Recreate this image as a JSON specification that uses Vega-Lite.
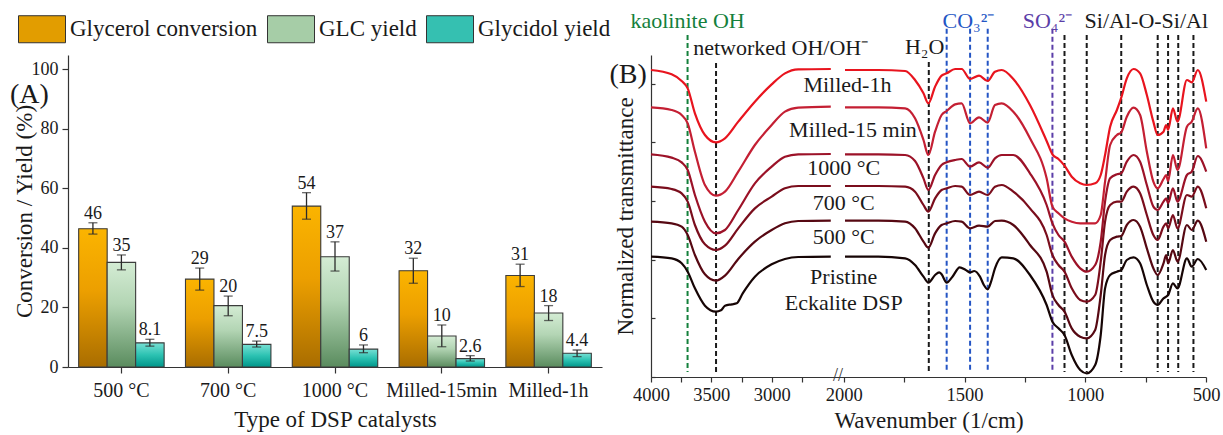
{
"$schema": "https://vega.github.io/schema/vega-lite/v6.json",
"padding": {"left": 9, "top": 5, "right": 2, "bottom": 2},
"spacing": 7,
"config": {
  "font": "Liberation Serif",
  "view": {"stroke": null},
  "axis": {"grid": false, "domainColor": "#333333", "tickColor": "#333333", "labelColor": "#1a1a1a", "titleColor": "#1a1a1a", "titleFontWeight": "normal", "labelFont": "Liberation Serif", "titleFont": "Liberation Serif", "domainWidth": 1.2, "tickWidth": 1.2},
  "legend": {"labelFont": "Liberation Serif"},
  "text": {"font": "Liberation Serif"}
},
"datasets": {
  "bars": [
    {"catalyst":"500 °C","series":"Glycerol conversion","value":46.4,"lo":44.6,"hi":48.4,"label":"46"},
    {"catalyst":"500 °C","series":"GLC yield","value":35.1,"lo":32.6,"hi":37.6,"label":"35"},
    {"catalyst":"500 °C","series":"Glycidol yield","value":8.1,"lo":7.0,"hi":9.3,"label":"8.1"},
    {"catalyst":"700 °C","series":"Glycerol conversion","value":29.5,"lo":25.8,"hi":33.2,"label":"29"},
    {"catalyst":"700 °C","series":"GLC yield","value":20.6,"lo":17.2,"hi":23.8,"label":"20"},
    {"catalyst":"700 °C","series":"Glycidol yield","value":7.6,"lo":6.7,"hi":8.7,"label":"7.5"},
    {"catalyst":"1000 °C","series":"Glycerol conversion","value":54.0,"lo":49.6,"hi":58.5,"label":"54"},
    {"catalyst":"1000 °C","series":"GLC yield","value":37.0,"lo":32.2,"hi":42.0,"label":"37"},
    {"catalyst":"1000 °C","series":"Glycidol yield","value":6.0,"lo":4.8,"hi":7.4,"label":"6"},
    {"catalyst":"Milled-15min","series":"Glycerol conversion","value":32.3,"lo":28.1,"hi":36.5,"label":"32"},
    {"catalyst":"Milled-15min","series":"GLC yield","value":10.4,"lo":6.8,"hi":14.1,"label":"10"},
    {"catalyst":"Milled-15min","series":"Glycidol yield","value":2.8,"lo":2.0,"hi":3.8,"label":"2.6"},
    {"catalyst":"Milled-1h","series":"Glycerol conversion","value":30.7,"lo":27.0,"hi":34.5,"label":"31"},
    {"catalyst":"Milled-1h","series":"GLC yield","value":18.1,"lo":15.6,"hi":20.6,"label":"18"},
    {"catalyst":"Milled-1h","series":"Glycidol yield","value":4.6,"lo":3.5,"hi":5.7,"label":"4.4"}
  ],
  "bands": [
    {"wn":3697,"kind":"kaolinite","top":1026,"bottom":15},
    {"wn":3461,"kind":"other","top":942,"bottom":15},
    {"wn":1648,"kind":"other","top":945,"bottom":15},
    {"wn":1574,"kind":"carbonate","top":1045,"bottom":15},
    {"wn":1477,"kind":"carbonate","top":1045,"bottom":15},
    {"wn":1404,"kind":"carbonate","top":1045,"bottom":15},
    {"wn":1136,"kind":"sulfate","top":1045,"bottom":15},
    {"wn":1086,"kind":"other","top":1026,"bottom":15},
    {"wn":994,"kind":"other","top":1026,"bottom":15},
    {"wn":851,"kind":"other","top":1026,"bottom":15},
    {"wn":700,"kind":"other","top":1026,"bottom":15},
    {"wn":657,"kind":"other","top":1026,"bottom":15},
    {"wn":615,"kind":"other","top":1026,"bottom":15},
    {"wn":552,"kind":"other","top":1026,"bottom":15}
  ],
  "notes": [
    {"wn":3697,"T":1068,"text":"kaolinite OH","kind":"kaolinite"},
    {"wn":2925,"T":987,"text":"networked OH/OH⁻","kind":"other"},
    {"wn":1665,"T":990,"text":"H₂O","kind":"other"},
    {"wn":1484,"T":1068,"text":"CO₃²⁻","kind":"carbonate"},
    {"wn":1157,"T":1068,"text":"SO₄²⁻","kind":"sulfate"},
    {"wn":747,"T":1068,"text":"Si/Al-O-Si/Al","kind":"other"}
  ],
  "curvelabels": [
    {"wn":1985,"T":876,"text":"Milled-1h"},
    {"wn":1962,"T":741,"text":"Milled-15 min"},
    {"wn":2003,"T":627,"text":"1000 °C"},
    {"wn":2002,"T":522,"text":"700 °C"},
    {"wn":2002,"T":420,"text":"500 °C"},
    {"wn":2004,"T":300,"text":"Pristine"},
    {"wn":2002,"T":222,"text":"Eckalite  DSP"}
  ],
  "spectra": [
    {"sample":"Milled-1h","seg":"a","wn":4000,"T":921},{"sample":"Milled-1h","seg":"a","wn":3829,"T":908},{"sample":"Milled-1h","seg":"a","wn":3746,"T":888},{"sample":"Milled-1h","seg":"a","wn":3696,"T":866},{"sample":"Milled-1h","seg":"a","wn":3636,"T":791},{"sample":"Milled-1h","seg":"a","wn":3553,"T":726},{"sample":"Milled-1h","seg":"a","wn":3462,"T":704},{"sample":"Milled-1h","seg":"a","wn":3387,"T":716},{"sample":"Milled-1h","seg":"a","wn":3277,"T":766},{"sample":"Milled-1h","seg":"a","wn":3139,"T":826},{"sample":"Milled-1h","seg":"a","wn":3000,"T":878},{"sample":"Milled-1h","seg":"a","wn":2890,"T":911},{"sample":"Milled-1h","seg":"a","wn":2780,"T":923},{"sample":"Milled-1h","seg":"a","wn":2510,"T":924},
    {"sample":"Milled-1h","seg":"b","wn":1995,"T":921},{"sample":"Milled-1h","seg":"b","wn":1857,"T":921},{"sample":"Milled-1h","seg":"b","wn":1746,"T":918},{"sample":"Milled-1h","seg":"b","wn":1705,"T":891},{"sample":"Milled-1h","seg":"b","wn":1670,"T":851},{"sample":"Milled-1h","seg":"b","wn":1650,"T":821},{"sample":"Milled-1h","seg":"b","wn":1622,"T":871},{"sample":"Milled-1h","seg":"b","wn":1595,"T":904},{"sample":"Milled-1h","seg":"b","wn":1574,"T":911},{"sample":"Milled-1h","seg":"b","wn":1539,"T":924},{"sample":"Milled-1h","seg":"b","wn":1512,"T":924},{"sample":"Milled-1h","seg":"b","wn":1477,"T":894},{"sample":"Milled-1h","seg":"b","wn":1440,"T":904},{"sample":"Milled-1h","seg":"b","wn":1404,"T":888},{"sample":"Milled-1h","seg":"b","wn":1374,"T":916},{"sample":"Milled-1h","seg":"b","wn":1346,"T":921},{"sample":"Milled-1h","seg":"b","wn":1298,"T":894},{"sample":"Milled-1h","seg":"b","wn":1229,"T":816},{"sample":"Milled-1h","seg":"b","wn":1160,"T":708},{"sample":"Milled-1h","seg":"b","wn":1136,"T":668},{"sample":"Milled-1h","seg":"b","wn":1111,"T":654},{"sample":"Milled-1h","seg":"b","wn":1086,"T":634},{"sample":"Milled-1h","seg":"b","wn":1056,"T":601},{"sample":"Milled-1h","seg":"b","wn":1021,"T":581},{"sample":"Milled-1h","seg":"b","wn":994,"T":576},{"sample":"Milled-1h","seg":"b","wn":959,"T":581},{"sample":"Milled-1h","seg":"b","wn":936,"T":606},{"sample":"Milled-1h","seg":"b","wn":918,"T":666},{"sample":"Milled-1h","seg":"b","wn":897,"T":751},{"sample":"Milled-1h","seg":"b","wn":869,"T":801},{"sample":"Milled-1h","seg":"b","wn":851,"T":838},{"sample":"Milled-1h","seg":"b","wn":828,"T":896},{"sample":"Milled-1h","seg":"b","wn":800,"T":924},{"sample":"Milled-1h","seg":"b","wn":773,"T":911},{"sample":"Milled-1h","seg":"b","wn":745,"T":846},{"sample":"Milled-1h","seg":"b","wn":718,"T":766},{"sample":"Milled-1h","seg":"b","wn":700,"T":726},{"sample":"Milled-1h","seg":"b","wn":676,"T":736},{"sample":"Milled-1h","seg":"b","wn":665,"T":756},{"sample":"Milled-1h","seg":"b","wn":657,"T":741},{"sample":"Milled-1h","seg":"b","wn":637,"T":806},{"sample":"Milled-1h","seg":"b","wn":618,"T":766},{"sample":"Milled-1h","seg":"b","wn":579,"T":891},{"sample":"Milled-1h","seg":"b","wn":559,"T":884},{"sample":"Milled-1h","seg":"b","wn":534,"T":921},{"sample":"Milled-1h","seg":"b","wn":499,"T":826},
    {"sample":"Milled-15 min","seg":"a","wn":4000,"T":809},{"sample":"Milled-15 min","seg":"a","wn":3829,"T":801},{"sample":"Milled-15 min","seg":"a","wn":3746,"T":786},{"sample":"Milled-15 min","seg":"a","wn":3696,"T":761},{"sample":"Milled-15 min","seg":"a","wn":3636,"T":676},{"sample":"Milled-15 min","seg":"a","wn":3553,"T":576},{"sample":"Milled-15 min","seg":"a","wn":3462,"T":544},{"sample":"Milled-15 min","seg":"a","wn":3387,"T":556},{"sample":"Milled-15 min","seg":"a","wn":3277,"T":616},{"sample":"Milled-15 min","seg":"a","wn":3139,"T":696},{"sample":"Milled-15 min","seg":"a","wn":3000,"T":756},{"sample":"Milled-15 min","seg":"a","wn":2890,"T":796},{"sample":"Milled-15 min","seg":"a","wn":2780,"T":808},{"sample":"Milled-15 min","seg":"a","wn":2510,"T":811},
    {"sample":"Milled-15 min","seg":"b","wn":1995,"T":809},{"sample":"Milled-15 min","seg":"b","wn":1857,"T":809},{"sample":"Milled-15 min","seg":"b","wn":1746,"T":806},{"sample":"Milled-15 min","seg":"b","wn":1705,"T":776},{"sample":"Milled-15 min","seg":"b","wn":1670,"T":711},{"sample":"Milled-15 min","seg":"b","wn":1650,"T":666},{"sample":"Milled-15 min","seg":"b","wn":1622,"T":736},{"sample":"Milled-15 min","seg":"b","wn":1595,"T":786},{"sample":"Milled-15 min","seg":"b","wn":1574,"T":798},{"sample":"Milled-15 min","seg":"b","wn":1539,"T":818},{"sample":"Milled-15 min","seg":"b","wn":1512,"T":821},{"sample":"Milled-15 min","seg":"b","wn":1477,"T":761},{"sample":"Milled-15 min","seg":"b","wn":1440,"T":779},{"sample":"Milled-15 min","seg":"b","wn":1404,"T":763},{"sample":"Milled-15 min","seg":"b","wn":1374,"T":816},{"sample":"Milled-15 min","seg":"b","wn":1346,"T":821},{"sample":"Milled-15 min","seg":"b","wn":1298,"T":796},{"sample":"Milled-15 min","seg":"b","wn":1229,"T":716},{"sample":"Milled-15 min","seg":"b","wn":1160,"T":596},{"sample":"Milled-15 min","seg":"b","wn":1136,"T":511},{"sample":"Milled-15 min","seg":"b","wn":1111,"T":491},{"sample":"Milled-15 min","seg":"b","wn":1086,"T":476},{"sample":"Milled-15 min","seg":"b","wn":1056,"T":466},{"sample":"Milled-15 min","seg":"b","wn":1021,"T":461},{"sample":"Milled-15 min","seg":"b","wn":994,"T":461},{"sample":"Milled-15 min","seg":"b","wn":959,"T":461},{"sample":"Milled-15 min","seg":"b","wn":936,"T":486},{"sample":"Milled-15 min","seg":"b","wn":918,"T":586},{"sample":"Milled-15 min","seg":"b","wn":897,"T":696},{"sample":"Milled-15 min","seg":"b","wn":869,"T":726},{"sample":"Milled-15 min","seg":"b","wn":851,"T":734},{"sample":"Milled-15 min","seg":"b","wn":828,"T":781},{"sample":"Milled-15 min","seg":"b","wn":800,"T":808},{"sample":"Milled-15 min","seg":"b","wn":773,"T":786},{"sample":"Milled-15 min","seg":"b","wn":745,"T":676},{"sample":"Milled-15 min","seg":"b","wn":718,"T":586},{"sample":"Milled-15 min","seg":"b","wn":700,"T":566},{"sample":"Milled-15 min","seg":"b","wn":676,"T":594},{"sample":"Milled-15 min","seg":"b","wn":665,"T":606},{"sample":"Milled-15 min","seg":"b","wn":657,"T":588},{"sample":"Milled-15 min","seg":"b","wn":637,"T":666},{"sample":"Milled-15 min","seg":"b","wn":618,"T":621},{"sample":"Milled-15 min","seg":"b","wn":579,"T":751},{"sample":"Milled-15 min","seg":"b","wn":559,"T":766},{"sample":"Milled-15 min","seg":"b","wn":534,"T":806},{"sample":"Milled-15 min","seg":"b","wn":499,"T":686},
    {"sample":"1000 °C","seg":"a","wn":4000,"T":668},{"sample":"1000 °C","seg":"a","wn":3829,"T":658},{"sample":"1000 °C","seg":"a","wn":3746,"T":644},{"sample":"1000 °C","seg":"a","wn":3696,"T":621},{"sample":"1000 °C","seg":"a","wn":3636,"T":546},{"sample":"1000 °C","seg":"a","wn":3553,"T":466},{"sample":"1000 °C","seg":"a","wn":3462,"T":431},{"sample":"1000 °C","seg":"a","wn":3387,"T":441},{"sample":"1000 °C","seg":"a","wn":3277,"T":501},{"sample":"1000 °C","seg":"a","wn":3139,"T":581},{"sample":"1000 °C","seg":"a","wn":3000,"T":631},{"sample":"1000 °C","seg":"a","wn":2890,"T":661},{"sample":"1000 °C","seg":"a","wn":2780,"T":668},{"sample":"1000 °C","seg":"a","wn":2510,"T":669},
    {"sample":"1000 °C","seg":"b","wn":1995,"T":668},{"sample":"1000 °C","seg":"b","wn":1857,"T":668},{"sample":"1000 °C","seg":"b","wn":1746,"T":666},{"sample":"1000 °C","seg":"b","wn":1705,"T":648},{"sample":"1000 °C","seg":"b","wn":1670,"T":596},{"sample":"1000 °C","seg":"b","wn":1650,"T":561},{"sample":"1000 °C","seg":"b","wn":1622,"T":606},{"sample":"1000 °C","seg":"b","wn":1595,"T":636},{"sample":"1000 °C","seg":"b","wn":1574,"T":644},{"sample":"1000 °C","seg":"b","wn":1539,"T":651},{"sample":"1000 °C","seg":"b","wn":1512,"T":654},{"sample":"1000 °C","seg":"b","wn":1477,"T":631},{"sample":"1000 °C","seg":"b","wn":1440,"T":644},{"sample":"1000 °C","seg":"b","wn":1404,"T":628},{"sample":"1000 °C","seg":"b","wn":1374,"T":656},{"sample":"1000 °C","seg":"b","wn":1346,"T":666},{"sample":"1000 °C","seg":"b","wn":1298,"T":666},{"sample":"1000 °C","seg":"b","wn":1229,"T":611},{"sample":"1000 °C","seg":"b","wn":1160,"T":516},{"sample":"1000 °C","seg":"b","wn":1136,"T":461},{"sample":"1000 °C","seg":"b","wn":1111,"T":426},{"sample":"1000 °C","seg":"b","wn":1086,"T":406},{"sample":"1000 °C","seg":"b","wn":1056,"T":361},{"sample":"1000 °C","seg":"b","wn":1021,"T":326},{"sample":"1000 °C","seg":"b","wn":994,"T":316},{"sample":"1000 °C","seg":"b","wn":959,"T":336},{"sample":"1000 °C","seg":"b","wn":936,"T":406},{"sample":"1000 °C","seg":"b","wn":918,"T":526},{"sample":"1000 °C","seg":"b","wn":897,"T":596},{"sample":"1000 °C","seg":"b","wn":869,"T":608},{"sample":"1000 °C","seg":"b","wn":851,"T":611},{"sample":"1000 °C","seg":"b","wn":828,"T":646},{"sample":"1000 °C","seg":"b","wn":800,"T":666},{"sample":"1000 °C","seg":"b","wn":773,"T":646},{"sample":"1000 °C","seg":"b","wn":745,"T":576},{"sample":"1000 °C","seg":"b","wn":718,"T":511},{"sample":"1000 °C","seg":"b","wn":700,"T":501},{"sample":"1000 °C","seg":"b","wn":676,"T":526},{"sample":"1000 °C","seg":"b","wn":665,"T":536},{"sample":"1000 °C","seg":"b","wn":657,"T":521},{"sample":"1000 °C","seg":"b","wn":637,"T":566},{"sample":"1000 °C","seg":"b","wn":618,"T":526},{"sample":"1000 °C","seg":"b","wn":579,"T":606},{"sample":"1000 °C","seg":"b","wn":559,"T":616},{"sample":"1000 °C","seg":"b","wn":534,"T":663},{"sample":"1000 °C","seg":"b","wn":499,"T":616},
    {"sample":"700 °C","seg":"a","wn":4000,"T":571},{"sample":"700 °C","seg":"a","wn":3829,"T":564},{"sample":"700 °C","seg":"a","wn":3746,"T":551},{"sample":"700 °C","seg":"a","wn":3696,"T":526},{"sample":"700 °C","seg":"a","wn":3636,"T":456},{"sample":"700 °C","seg":"a","wn":3553,"T":398},{"sample":"700 °C","seg":"a","wn":3462,"T":381},{"sample":"700 °C","seg":"a","wn":3387,"T":394},{"sample":"700 °C","seg":"a","wn":3277,"T":446},{"sample":"700 °C","seg":"a","wn":3139,"T":506},{"sample":"700 °C","seg":"a","wn":3000,"T":541},{"sample":"700 °C","seg":"a","wn":2890,"T":566},{"sample":"700 °C","seg":"a","wn":2780,"T":573},{"sample":"700 °C","seg":"a","wn":2510,"T":573},
    {"sample":"700 °C","seg":"b","wn":1995,"T":573},{"sample":"700 °C","seg":"b","wn":1857,"T":573},{"sample":"700 °C","seg":"b","wn":1746,"T":571},{"sample":"700 °C","seg":"b","wn":1705,"T":556},{"sample":"700 °C","seg":"b","wn":1670,"T":516},{"sample":"700 °C","seg":"b","wn":1650,"T":496},{"sample":"700 °C","seg":"b","wn":1622,"T":536},{"sample":"700 °C","seg":"b","wn":1595,"T":561},{"sample":"700 °C","seg":"b","wn":1574,"T":566},{"sample":"700 °C","seg":"b","wn":1539,"T":573},{"sample":"700 °C","seg":"b","wn":1512,"T":571},{"sample":"700 °C","seg":"b","wn":1477,"T":546},{"sample":"700 °C","seg":"b","wn":1440,"T":556},{"sample":"700 °C","seg":"b","wn":1404,"T":546},{"sample":"700 °C","seg":"b","wn":1374,"T":571},{"sample":"700 °C","seg":"b","wn":1346,"T":576},{"sample":"700 °C","seg":"b","wn":1298,"T":556},{"sample":"700 °C","seg":"b","wn":1229,"T":506},{"sample":"700 °C","seg":"b","wn":1160,"T":426},{"sample":"700 °C","seg":"b","wn":1136,"T":366},{"sample":"700 °C","seg":"b","wn":1111,"T":336},{"sample":"700 °C","seg":"b","wn":1086,"T":316},{"sample":"700 °C","seg":"b","wn":1056,"T":266},{"sample":"700 °C","seg":"b","wn":1021,"T":231},{"sample":"700 °C","seg":"b","wn":994,"T":226},{"sample":"700 °C","seg":"b","wn":959,"T":246},{"sample":"700 °C","seg":"b","wn":936,"T":346},{"sample":"700 °C","seg":"b","wn":918,"T":466},{"sample":"700 °C","seg":"b","wn":897,"T":516},{"sample":"700 °C","seg":"b","wn":869,"T":526},{"sample":"700 °C","seg":"b","wn":851,"T":526},{"sample":"700 °C","seg":"b","wn":828,"T":556},{"sample":"700 °C","seg":"b","wn":800,"T":571},{"sample":"700 °C","seg":"b","wn":773,"T":551},{"sample":"700 °C","seg":"b","wn":745,"T":486},{"sample":"700 °C","seg":"b","wn":718,"T":426},{"sample":"700 °C","seg":"b","wn":700,"T":411},{"sample":"700 °C","seg":"b","wn":676,"T":451},{"sample":"700 °C","seg":"b","wn":665,"T":461},{"sample":"700 °C","seg":"b","wn":657,"T":446},{"sample":"700 °C","seg":"b","wn":637,"T":486},{"sample":"700 °C","seg":"b","wn":618,"T":446},{"sample":"700 °C","seg":"b","wn":579,"T":546},{"sample":"700 °C","seg":"b","wn":559,"T":541},{"sample":"700 °C","seg":"b","wn":534,"T":571},{"sample":"700 °C","seg":"b","wn":499,"T":506},
    {"sample":"500 °C","seg":"a","wn":4000,"T":466},{"sample":"500 °C","seg":"a","wn":3829,"T":461},{"sample":"500 °C","seg":"a","wn":3746,"T":451},{"sample":"500 °C","seg":"a","wn":3696,"T":426},{"sample":"500 °C","seg":"a","wn":3636,"T":366},{"sample":"500 °C","seg":"a","wn":3553,"T":308},{"sample":"500 °C","seg":"a","wn":3462,"T":289},{"sample":"500 °C","seg":"a","wn":3387,"T":304},{"sample":"500 °C","seg":"a","wn":3277,"T":354},{"sample":"500 °C","seg":"a","wn":3139,"T":406},{"sample":"500 °C","seg":"a","wn":3000,"T":441},{"sample":"500 °C","seg":"a","wn":2890,"T":461},{"sample":"500 °C","seg":"a","wn":2780,"T":468},{"sample":"500 °C","seg":"a","wn":2510,"T":469},
    {"sample":"500 °C","seg":"b","wn":1995,"T":469},{"sample":"500 °C","seg":"b","wn":1857,"T":469},{"sample":"500 °C","seg":"b","wn":1746,"T":466},{"sample":"500 °C","seg":"b","wn":1705,"T":446},{"sample":"500 °C","seg":"b","wn":1670,"T":406},{"sample":"500 °C","seg":"b","wn":1650,"T":388},{"sample":"500 °C","seg":"b","wn":1622,"T":431},{"sample":"500 °C","seg":"b","wn":1595,"T":456},{"sample":"500 °C","seg":"b","wn":1574,"T":461},{"sample":"500 °C","seg":"b","wn":1539,"T":468},{"sample":"500 °C","seg":"b","wn":1512,"T":466},{"sample":"500 °C","seg":"b","wn":1477,"T":446},{"sample":"500 °C","seg":"b","wn":1440,"T":454},{"sample":"500 °C","seg":"b","wn":1404,"T":451},{"sample":"500 °C","seg":"b","wn":1374,"T":468},{"sample":"500 °C","seg":"b","wn":1346,"T":469},{"sample":"500 °C","seg":"b","wn":1298,"T":456},{"sample":"500 °C","seg":"b","wn":1229,"T":396},{"sample":"500 °C","seg":"b","wn":1160,"T":316},{"sample":"500 °C","seg":"b","wn":1136,"T":246},{"sample":"500 °C","seg":"b","wn":1111,"T":216},{"sample":"500 °C","seg":"b","wn":1086,"T":196},{"sample":"500 °C","seg":"b","wn":1056,"T":146},{"sample":"500 °C","seg":"b","wn":1021,"T":121},{"sample":"500 °C","seg":"b","wn":994,"T":116},{"sample":"500 °C","seg":"b","wn":959,"T":141},{"sample":"500 °C","seg":"b","wn":936,"T":246},{"sample":"500 °C","seg":"b","wn":918,"T":366},{"sample":"500 °C","seg":"b","wn":897,"T":411},{"sample":"500 °C","seg":"b","wn":869,"T":421},{"sample":"500 °C","seg":"b","wn":851,"T":423},{"sample":"500 °C","seg":"b","wn":828,"T":456},{"sample":"500 °C","seg":"b","wn":800,"T":471},{"sample":"500 °C","seg":"b","wn":773,"T":451},{"sample":"500 °C","seg":"b","wn":745,"T":386},{"sample":"500 °C","seg":"b","wn":718,"T":326},{"sample":"500 °C","seg":"b","wn":700,"T":306},{"sample":"500 °C","seg":"b","wn":676,"T":341},{"sample":"500 °C","seg":"b","wn":665,"T":366},{"sample":"500 °C","seg":"b","wn":657,"T":341},{"sample":"500 °C","seg":"b","wn":637,"T":381},{"sample":"500 °C","seg":"b","wn":618,"T":346},{"sample":"500 °C","seg":"b","wn":579,"T":456},{"sample":"500 °C","seg":"b","wn":559,"T":441},{"sample":"500 °C","seg":"b","wn":534,"T":469},{"sample":"500 °C","seg":"b","wn":499,"T":406},
    {"sample":"Pristine Eckalite DSP","seg":"a","wn":4000,"T":361},{"sample":"Pristine Eckalite DSP","seg":"a","wn":3829,"T":356},{"sample":"Pristine Eckalite DSP","seg":"a","wn":3746,"T":341},{"sample":"Pristine Eckalite DSP","seg":"a","wn":3696,"T":316},{"sample":"Pristine Eckalite DSP","seg":"a","wn":3636,"T":266},{"sample":"Pristine Eckalite DSP","seg":"a","wn":3553,"T":214},{"sample":"Pristine Eckalite DSP","seg":"a","wn":3462,"T":196},{"sample":"Pristine Eckalite DSP","seg":"a","wn":3420,"T":200},{"sample":"Pristine Eckalite DSP","seg":"a","wn":3387,"T":214},{"sample":"Pristine Eckalite DSP","seg":"a","wn":3330,"T":218},{"sample":"Pristine Eckalite DSP","seg":"a","wn":3290,"T":221},{"sample":"Pristine Eckalite DSP","seg":"a","wn":3240,"T":251},{"sample":"Pristine Eckalite DSP","seg":"a","wn":3139,"T":301},{"sample":"Pristine Eckalite DSP","seg":"a","wn":3000,"T":338},{"sample":"Pristine Eckalite DSP","seg":"a","wn":2890,"T":354},{"sample":"Pristine Eckalite DSP","seg":"a","wn":2780,"T":360},{"sample":"Pristine Eckalite DSP","seg":"a","wn":2510,"T":361},
    {"sample":"Pristine Eckalite DSP","seg":"b","wn":1995,"T":361},{"sample":"Pristine Eckalite DSP","seg":"b","wn":1857,"T":361},{"sample":"Pristine Eckalite DSP","seg":"b","wn":1746,"T":356},{"sample":"Pristine Eckalite DSP","seg":"b","wn":1705,"T":336},{"sample":"Pristine Eckalite DSP","seg":"b","wn":1670,"T":301},{"sample":"Pristine Eckalite DSP","seg":"b","wn":1650,"T":283},{"sample":"Pristine Eckalite DSP","seg":"b","wn":1622,"T":306},{"sample":"Pristine Eckalite DSP","seg":"b","wn":1605,"T":314},{"sample":"Pristine Eckalite DSP","seg":"b","wn":1595,"T":308},{"sample":"Pristine Eckalite DSP","seg":"b","wn":1574,"T":283},{"sample":"Pristine Eckalite DSP","seg":"b","wn":1550,"T":301},{"sample":"Pristine Eckalite DSP","seg":"b","wn":1520,"T":329},{"sample":"Pristine Eckalite DSP","seg":"b","wn":1495,"T":321},{"sample":"Pristine Eckalite DSP","seg":"b","wn":1477,"T":314},{"sample":"Pristine Eckalite DSP","seg":"b","wn":1460,"T":318},{"sample":"Pristine Eckalite DSP","seg":"b","wn":1436,"T":301},{"sample":"Pristine Eckalite DSP","seg":"b","wn":1420,"T":276},{"sample":"Pristine Eckalite DSP","seg":"b","wn":1404,"T":263},{"sample":"Pristine Eckalite DSP","seg":"b","wn":1390,"T":286},{"sample":"Pristine Eckalite DSP","seg":"b","wn":1374,"T":326},{"sample":"Pristine Eckalite DSP","seg":"b","wn":1346,"T":359},{"sample":"Pristine Eckalite DSP","seg":"b","wn":1298,"T":356},{"sample":"Pristine Eckalite DSP","seg":"b","wn":1229,"T":306},{"sample":"Pristine Eckalite DSP","seg":"b","wn":1160,"T":216},{"sample":"Pristine Eckalite DSP","seg":"b","wn":1136,"T":166},{"sample":"Pristine Eckalite DSP","seg":"b","wn":1111,"T":146},{"sample":"Pristine Eckalite DSP","seg":"b","wn":1086,"T":126},{"sample":"Pristine Eckalite DSP","seg":"b","wn":1056,"T":66},{"sample":"Pristine Eckalite DSP","seg":"b","wn":1021,"T":21},{"sample":"Pristine Eckalite DSP","seg":"b","wn":994,"T":11},{"sample":"Pristine Eckalite DSP","seg":"b","wn":959,"T":36},{"sample":"Pristine Eckalite DSP","seg":"b","wn":936,"T":126},{"sample":"Pristine Eckalite DSP","seg":"b","wn":918,"T":266},{"sample":"Pristine Eckalite DSP","seg":"b","wn":897,"T":306},{"sample":"Pristine Eckalite DSP","seg":"b","wn":869,"T":316},{"sample":"Pristine Eckalite DSP","seg":"b","wn":851,"T":321},{"sample":"Pristine Eckalite DSP","seg":"b","wn":828,"T":351},{"sample":"Pristine Eckalite DSP","seg":"b","wn":800,"T":359},{"sample":"Pristine Eckalite DSP","seg":"b","wn":773,"T":341},{"sample":"Pristine Eckalite DSP","seg":"b","wn":745,"T":276},{"sample":"Pristine Eckalite DSP","seg":"b","wn":718,"T":226},{"sample":"Pristine Eckalite DSP","seg":"b","wn":700,"T":216},{"sample":"Pristine Eckalite DSP","seg":"b","wn":676,"T":236},{"sample":"Pristine Eckalite DSP","seg":"b","wn":665,"T":241},{"sample":"Pristine Eckalite DSP","seg":"b","wn":657,"T":246},{"sample":"Pristine Eckalite DSP","seg":"b","wn":637,"T":281},{"sample":"Pristine Eckalite DSP","seg":"b","wn":618,"T":266},{"sample":"Pristine Eckalite DSP","seg":"b","wn":579,"T":356},{"sample":"Pristine Eckalite DSP","seg":"b","wn":559,"T":331},{"sample":"Pristine Eckalite DSP","seg":"b","wn":534,"T":354},{"sample":"Pristine Eckalite DSP","seg":"b","wn":499,"T":321}
  ]
},
"hconcat": [
  {
    "width": 534,
    "height": 312,
    "data": {"name": "bars"},
    "layer": [
      {
        "mark": {"type": "bar"},
        "encoding": {
          "x": {"field": "catalyst", "type": "nominal", "sort": ["500 °C","700 °C","1000 °C","Milled-15min","Milled-1h"], "scale": {"paddingInner": 0.2, "paddingOuter": 0.1},
                "axis": {"title": "Type of DSP catalysts", "labelAngle": 0, "labelFontSize": 20, "titleFontSize": 23, "tickSize": 6, "labelPadding": 7, "titlePadding": 8}},
          "xOffset": {"field": "series", "type": "nominal", "sort": ["Glycerol conversion","GLC yield","Glycidol yield"]},
          "y": {"field": "value", "type": "quantitative", "scale": {"domain": [0, 104.7], "nice": false},
                "axis": {"title": "Conversion / Yield (%)", "values": [0,10,20,30,40,50,60,70,80,90,100], "labelExpr": "datum.value % 20 == 0 ? datum.label : ''", "labelFontSize": 18, "titleFontSize": 23, "tickSize": 6, "labelPadding": 4, "titlePadding": -5}},
          "fill": {"field": "series", "type": "nominal",
                   "scale": {"domain": ["Glycerol conversion","GLC yield","Glycidol yield"], "range": ["#e29d00","#a6cda7","#35c0b1"]},
                   "legend": {"orient": "none", "legendX": -50, "legendY": -50, "direction": "horizontal", "columns": 3, "title": null,
                              "symbolType": "M-1,-0.575H1V0.575H-1Z", "symbolSize": 2209, "symbolStrokeColor": "#333333", "symbolStrokeWidth": 1,
                              "labelFont": "Liberation Serif", "labelFontSize": 23, "labelOffset": 4, "columnPadding": 7, "labelLimit": 400, "labelColor": "#1a1a1a"}}
        }
      },
      {
        "mark": {"type": "bar", "stroke": "#3c3c3c", "strokeWidth": 1.1},
        "encoding": {
          "x": {"field": "catalyst", "type": "nominal", "sort": ["500 °C","700 °C","1000 °C","Milled-15min","Milled-1h"]},
          "xOffset": {"field": "series", "type": "nominal", "sort": ["Glycerol conversion","GLC yield","Glycidol yield"]},
          "y": {"field": "value", "type": "quantitative"},
          "fill": {
            "condition": [
              {"test": "datum.series === 'GLC yield'", "value": {"gradient": "linear", "x1": 0, "y1": 0, "x2": 0, "y2": 1, "stops": [{"offset": 0, "color": "#d4ecd4"}, {"offset": 0.4, "color": "#b3d5b4"}, {"offset": 1, "color": "#5a8c5e"}]}},
              {"test": "datum.series === 'Glycidol yield'", "value": {"gradient": "linear", "x1": 0, "y1": 0, "x2": 0, "y2": 1, "stops": [{"offset": 0, "color": "#78e0d4"}, {"offset": 0.5, "color": "#2cc2b2"}, {"offset": 1, "color": "#00968a"}]}}
            ],
            "value": {"gradient": "linear", "x1": 0, "y1": 0, "x2": 0, "y2": 1, "stops": [{"offset": 0, "color": "#fbb400"}, {"offset": 0.45, "color": "#ec9f00"}, {"offset": 1, "color": "#a96d00"}]}
          }
        }
      },
      {
        "mark": {"type": "rule", "color": "#2b2b2b", "strokeWidth": 1.3},
        "encoding": {
          "x": {"field": "catalyst", "type": "nominal", "sort": ["500 °C","700 °C","1000 °C","Milled-15min","Milled-1h"]},
          "xOffset": {"field": "series", "type": "nominal", "sort": ["Glycerol conversion","GLC yield","Glycidol yield"]},
          "y": {"field": "lo", "type": "quantitative"},
          "y2": {"field": "hi"}
        }
      },
      {
        "mark": {"type": "tick", "color": "#2b2b2b", "thickness": 1.3, "size": 9},
        "encoding": {
          "x": {"field": "catalyst", "type": "nominal", "sort": ["500 °C","700 °C","1000 °C","Milled-15min","Milled-1h"]},
          "xOffset": {"field": "series", "type": "nominal", "sort": ["Glycerol conversion","GLC yield","Glycidol yield"]},
          "y": {"field": "lo", "type": "quantitative"}
        }
      },
      {
        "mark": {"type": "tick", "color": "#2b2b2b", "thickness": 1.3, "size": 9},
        "encoding": {
          "x": {"field": "catalyst", "type": "nominal", "sort": ["500 °C","700 °C","1000 °C","Milled-15min","Milled-1h"]},
          "xOffset": {"field": "series", "type": "nominal", "sort": ["Glycerol conversion","GLC yield","Glycidol yield"]},
          "y": {"field": "hi", "type": "quantitative"}
        }
      },
      {
        "mark": {"type": "text", "font": "Liberation Serif", "baseline": "alphabetic", "dy": -4, "fontSize": 18, "color": "#1a1a1a"},
        "encoding": {
          "x": {"field": "catalyst", "type": "nominal", "sort": ["500 °C","700 °C","1000 °C","Milled-15min","Milled-1h"]},
          "xOffset": {"field": "series", "type": "nominal", "sort": ["Glycerol conversion","GLC yield","Glycidol yield"]},
          "y": {"field": "hi", "type": "quantitative"},
          "text": {"field": "label"}
        }
      },
      {
        "data": {"values": [{"panel": "(A)", "catalyst": "500 °C", "level": 91.3}]},
        "mark": {"type": "text", "font": "Liberation Serif", "fontSize": 28, "dx": -92, "align": "center", "baseline": "middle", "color": "#1a1a1a"},
        "encoding": {
          "x": {"field": "catalyst", "type": "nominal", "sort": ["500 °C","700 °C","1000 °C","Milled-15min","Milled-1h"]},
          "y": {"field": "level", "type": "quantitative"},
          "text": {"field": "panel"}
        }
      }
    ]
  },
  {
    "width": 555,
    "height": 322,
    "layer": [
      {
        "data": {"name": "bands"},
        "mark": {"type": "rule", "strokeWidth": 2, "strokeDash": [5, 3]},
        "encoding": {
          "x": {"field": "wn", "type": "quantitative", "scale": {"domain": [4000, 2500, 2000, 500], "range": [0, 181, 192.8, 555], "zero": false, "nice": false}},
          "y": {"field": "top", "type": "quantitative", "scale": {"domain": [0, 966], "nice": false, "zero": false}},
          "y2": {"field": "bottom"},
          "color": {"field": "kind", "type": "nominal", "scale": {"domain": ["kaolinite","other","carbonate","sulfate"], "range": ["#14803c","#1a1a1a","#2455c4","#5b3ea8"]}, "legend": null}
        }
      },
      {
        "data": {"name": "spectra"},
        "mark": {"type": "line", "strokeWidth": 2.2, "interpolate": "monotone"},
        "encoding": {
          "x": {"field": "wn", "type": "quantitative",
                "axis": {"title": "Wavenumber (1/cm)", "values": [4000,3750,3500,3250,3000,2750,2000,1750,1500,1250,1000,750,500], "labelExpr": "datum.value % 500 == 0 ? datum.label : ''", "format": "d", "labelFlush": false, "labelOverlap": false, "labelFontSize": 18.5, "titleFontSize": 23, "tickSize": 5, "labelPadding": 3, "titlePadding": 6}},
          "y": {"field": "T", "type": "quantitative",
                "axis": {"title": "Normalized transmittance", "labels": false, "values": [0,88,176,264,352,440,528,616,704,792,880], "tickSize": -4, "titleFontSize": 23, "titlePadding": 13}},
          "stroke": {"field": "sample", "type": "nominal", "scale": {"domain": ["Milled-1h","Milled-15 min","1000 °C","700 °C","500 °C","Pristine Eckalite DSP"], "range": ["#e8141e","#c41f33","#9c1228","#7a0d1c","#560812","#160505"]}, "legend": null},
          "detail": {"field": "seg"}
        }
      },
      {
        "data": {"name": "notes"},
        "mark": {"type": "text", "font": "Liberation Serif", "fontSize": 22, "align": "center", "baseline": "middle"},
        "encoding": {
          "x": {"field": "wn", "type": "quantitative"},
          "y": {"field": "T", "type": "quantitative"},
          "text": {"field": "text"},
          "color": {"field": "kind", "type": "nominal", "legend": null}
        }
      },
      {
        "data": {"name": "curvelabels"},
        "mark": {"type": "text", "font": "Liberation Serif", "fontSize": 22, "align": "center", "baseline": "middle", "color": "#1a1a1a"},
        "encoding": {
          "x": {"field": "wn", "type": "quantitative"},
          "y": {"field": "T", "type": "quantitative"},
          "text": {"field": "text"}
        }
      },
      {
        "data": {"values": [{"wn": 4190, "T": 906, "text": "(B)"}]},
        "mark": {"type": "text", "font": "Liberation Serif", "fontSize": 28, "align": "center", "baseline": "middle", "color": "#1a1a1a"},
        "encoding": {
          "x": {"field": "wn", "type": "quantitative"},
          "y": {"field": "T", "type": "quantitative"},
          "text": {"field": "text"}
        }
      },
      {
        "data": {"values": [{"wn": 2250, "T": 4, "text": "//"}]},
        "mark": {"type": "text", "font": "Liberation Serif", "fontSize": 18, "align": "center", "baseline": "middle", "color": "#333333"},
        "encoding": {
          "x": {"field": "wn", "type": "quantitative"},
          "y": {"field": "T", "type": "quantitative"},
          "text": {"field": "text"}
        }
      }
    ]
  }
]
}
